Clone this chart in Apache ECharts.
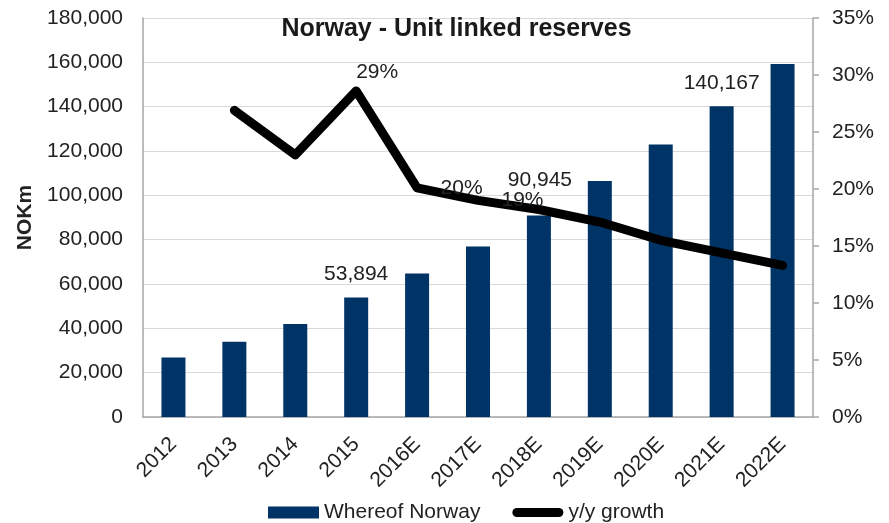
<!DOCTYPE html>
<html>
<head>
<meta charset="utf-8">
<script src="https://cdn.jsdelivr.net/npm/echarts@6/dist/echarts.min.js"></script>
<style>
  html, body { margin: 0; padding: 0; background: #fff; }
  #chart { width: 889px; height: 523px; }
</style>
</head>
<body>
<div id="chart"></div>
<script>
// Norway unit linked reserves (NOKm) and year-on-year growth (%)
const years = ['2012', '2013', '2014', '2015', '2016E', '2017E', '2018E', '2019E', '2020E', '2021E', '2022E'];
const reserves = [26800, 34000, 41900, 53894, 64700, 76900, 90945, 106500, 122900, 140167, 159300];
const growth = [null, 26.9, 23.0, 28.6, 20.1, 19.0, 18.2, 17.1, 15.5, 14.4, 13.3];

const leftAxisTicks = { min: 0, max: 180000, interval: 20000 };
const rightAxisTicks = { min: 0, max: 35, interval: 5 };

// categories whose values are printed next to the mark
const labelledBars = ['2015', '2018E', '2021E'];
const labelledGrowth = ['2015', '2016E', '2017E'];

const FONT = '"Liberation Sans", Arial, sans-serif';
const TEXT = '#222';
const AXIS_GREY = '#a6a6a6';

// per-label nudges
const barLabelOffset = { '2018E': [1, -12] };
const growthLabelPlace = {
  '2015':  { position: 'top', align: 'left', distance: 8 },
  '2016E': { position: 'right', distance: 23 },
  '2017E': { position: 'right', distance: 23 }
};

// thick rounded stroke used as the legend key of the growth line
const capsuleIcon = 'path://M4.5,0 L46.5,0 A4.5,4.5 0 0 1 46.5,9 L4.5,9 A4.5,4.5 0 0 1 4.5,0 Z';

const barData = reserves.map((v, i) => {
  const show = labelledBars.includes(years[i]);
  return {
    value: v,
    label: show ? { show: true, offset: barLabelOffset[years[i]] || [0, 0] } : { show: false }
  };
});

const lineData = growth.map((v, i) => {
  const place = growthLabelPlace[years[i]];
  return {
    value: v,
    label: (labelledGrowth.includes(years[i]) && place) ? Object.assign({ show: true }, place) : { show: false }
  };
});

const fmtThousands = v => Number(v).toLocaleString('en-US');

const chart = echarts.init(document.getElementById('chart'), null, { renderer: 'canvas' });

chart.setOption({
  animation: false,
  backgroundColor: '#fff',
  textStyle: { fontFamily: FONT },
  graphic: [{
    type: 'text',
    x: 456.5,
    y: 29,
    style: {
      text: 'Norway - Unit linked reserves',
      fontFamily: FONT,
      fontSize: 25,
      fontWeight: 'bold',
      fill: '#1a1a1a',
      textAlign: 'center',
      textVerticalAlign: 'middle'
    },
    z: 10
  }],
  grid: { left: 143, right: 76, top: 18, bottom: 106, containLabel: false, outerBoundsMode: 'none' },
  legend: {
    left: 263,
    top: 497,
    itemWidth: 51,
    itemHeight: 12,
    itemGap: 32,
    textStyle: { fontSize: 21, color: TEXT, fontFamily: FONT },
    data: [
      { name: 'Whereof Norway', icon: 'rect' },
      { name: 'y/y growth', icon: capsuleIcon, itemStyle: { color: '#000' } }
    ]
  },
  xAxis: {
    type: 'category',
    data: years,
    boundaryGap: true,
    axisLine: { lineStyle: { color: AXIS_GREY, width: 1.5 } },
    axisTick: { show: false },
    axisLabel: { rotate: 45, margin: 24, fontSize: 21, color: TEXT, fontFamily: FONT, interval: 0 }
  },
  yAxis: [
    {
      type: 'value',
      min: leftAxisTicks.min,
      max: leftAxisTicks.max,
      interval: leftAxisTicks.interval,
      name: 'NOKm',
      nameLocation: 'middle',
      nameRotate: 90,
      nameGap: 102,
      nameTextStyle: { fontSize: 21, fontWeight: 'bold', color: TEXT, fontFamily: FONT },
      axisLine: { show: true, lineStyle: { color: AXIS_GREY, width: 1.5 } },
      axisTick: { show: false },
      axisLabel: { margin: 20, fontSize: 21, color: TEXT, fontFamily: FONT, formatter: fmtThousands },
      splitLine: { show: true, lineStyle: { color: '#d9d9d9', width: 1 } }
    },
    {
      type: 'value',
      position: 'right',
      min: rightAxisTicks.min,
      max: rightAxisTicks.max,
      interval: rightAxisTicks.interval,
      axisLine: { show: true, lineStyle: { color: AXIS_GREY, width: 1.5 } },
      axisTick: { show: true, inside: false, length: 6, lineStyle: { color: AXIS_GREY, width: 1.5 } },
      axisLabel: { margin: 19, fontSize: 21, color: TEXT, fontFamily: FONT, formatter: '{value}%' },
      splitLine: { show: false }
    }
  ],
  series: [
    {
      name: 'Whereof Norway',
      type: 'bar',
      yAxisIndex: 0,
      barWidth: 24,
      itemStyle: { color: '#003366' },
      label: {
        position: 'top',
        distance: 13,
        fontSize: 21,
        color: TEXT,
        fontFamily: FONT,
        formatter: p => fmtThousands(p.value)
      },
      data: barData,
      z: 2
    },
    {
      name: 'y/y growth',
      type: 'line',
      yAxisIndex: 1,
      symbol: 'circle',
      symbolSize: 1,
      showSymbol: true,
      connectNulls: false,
      lineStyle: { color: '#000', width: 9, cap: 'round', join: 'round' },
      itemStyle: { color: '#000' },
      label: {
        fontSize: 21,
        color: TEXT,
        fontFamily: FONT,
        formatter: p => Math.round(p.value) + '%'
      },
      labelLayout: { hideOverlap: false },
      data: lineData,
      z: 3
    }
  ]
});
</script>
</body>
</html>
